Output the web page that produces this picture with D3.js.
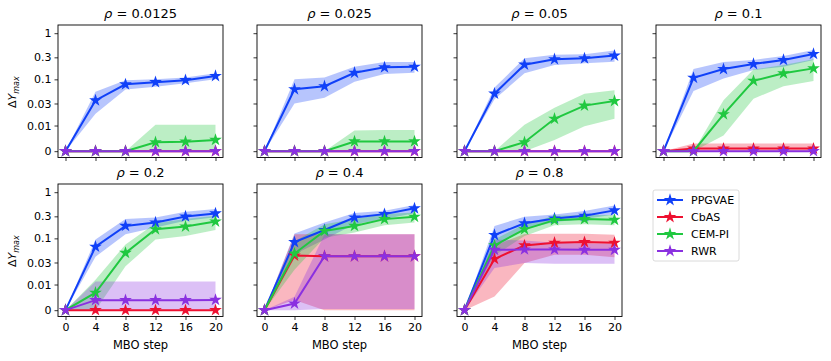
<!DOCTYPE html>
<html>
<head>
<meta charset="utf-8">
<script src="https://cdn.jsdelivr.net/npm/d3@7"></script>
<style>
  body { margin: 0; background: #fff; }
  text { font-family: "DejaVu Sans", sans-serif; fill: #000; }
</style>
</head>
<body>
<svg width="831" height="361"></svg>
<script>
// data
var steps = [0, 4, 8, 12, 16, 20];
var rhos = ["0.0125", "0.025", "0.05", "0.1", "0.2", "0.4", "0.8"];
var methods = ["PPGVAE", "CbAS", "CEM-PI", "RWR"];
var colors = ["#1040f8", "#ee1030", "#20c840", "#8a30e0"];
var yTicks = [0, 0.01, 0.03, 0.1, 0.3, 1];
var yTickLabels = ["0", "0.01", "0.03", "0.1", "0.3", "1"];

var ppgvaeMean = [
  [0, 0.035, 0.078, 0.087, 0.096, 0.118],
  [0, 0.061, 0.071, 0.139, 0.182, 0.188],
  [0, 0.049, 0.208, 0.272, 0.285, 0.327],
  [0, 0.108, 0.167, 0.215, 0.263, 0.355],
  [0, 0.066, 0.186, 0.221, 0.298, 0.347],
  [0, 0.083, 0.152, 0.283, 0.335, 0.447],
  [0, 0.118, 0.213, 0.27, 0.308, 0.404]
];
var ppgvaeLo = [
  [0, 0.018, 0.060, 0.069, 0.082, 0.100],
  [0, 0.030, 0.040, 0.089, 0.130, 0.139],
  [0, 0.037, 0.135, 0.204, 0.222, 0.242],
  [0, 0.056, 0.105, 0.159, 0.188, 0.263],
  [0, 0.040, 0.122, 0.171, 0.240, 0.285],
  [0, 0.045, 0.095, 0.203, 0.261, 0.35],
  [0, 0.066, 0.157, 0.227, 0.261, 0.33]
];
var ppgvaeHi = [
  [0, 0.054, 0.096, 0.101, 0.110, 0.135],
  [0, 0.100, 0.110, 0.188, 0.237, 0.237],
  [0, 0.067, 0.285, 0.342, 0.349, 0.42],
  [0, 0.167, 0.237, 0.263, 0.321, 0.43],
  [0, 0.095, 0.261, 0.284, 0.378, 0.43],
  [0, 0.128, 0.221, 0.353, 0.397, 0.53],
  [0, 0.186, 0.293, 0.33, 0.39, 0.512]
];

var cbasMean = [
  [0, 0, 0, 0, 0, 0],
  [0, 0, 0, 0, 0, 0],
  [0, 0, 0, 0, 0, 0],
  [0, 0.001, 0.001, 0.001, 0.001, 0.001],
  [0, 0, 0, 0, 0, 0],
  [0, 0.0424, 0.041, 0.041, 0.041, 0.041],
  [0, 0.0358, 0.0703, 0.0804, 0.083, 0.0804]
];
var cbasLo = [
  [0, 0, 0, 0, 0, 0],
  [0, 0, 0, 0, 0, 0],
  [0, 0, 0, 0, 0, 0],
  [0, 0, 0, 0, 0, 0],
  [0, 0, 0, 0, 0, 0],
  [0, 0.004, 0, 0, 0, 0],
  [0, 0.0053, 0.0293, 0.044, 0.044, 0.039]
];
var cbasHi = [
  [0, 0, 0, 0, 0, 0],
  [0, 0, 0, 0, 0, 0],
  [0, 0, 0, 0, 0, 0],
  [0, 0.003, 0.003, 0.003, 0.003, 0.003],
  [0, 0, 0, 0, 0, 0],
  [0, 0.122, 0.122, 0.122, 0.122, 0.122],
  [0, 0.0703, 0.124, 0.126, 0.126, 0.12]
];

var cemMean = [
  [0, 0, 0, 0.0035, 0.0037, 0.0044],
  [0, 0, 0, 0.0038, 0.0038, 0.0038],
  [0, 0, 0.0035, 0.014, 0.027, 0.034],
  [0, 0, 0.0175, 0.093, 0.135, 0.173],
  [0, 0.0068, 0.0485, 0.157, 0.18, 0.231],
  [0, 0.0469, 0.145, 0.186, 0.261, 0.293],
  [0, 0.0703, 0.157, 0.248, 0.261, 0.252]
];
var cemLo = [
  [0, 0, 0, 0, 0, 0],
  [0, 0, 0, 0, 0, 0],
  [0, 0, 0, 0.0044, 0.0097, 0.014],
  [0, 0, 0.0061, 0.038, 0.0713, 0.0917],
  [0, 0, 0.0248, 0.094, 0.112, 0.152],
  [0, 0.021, 0.103, 0.134, 0.193, 0.22],
  [0, 0.0424, 0.112, 0.193, 0.203, 0.193]
];
var cemHi = [
  [0, 0, 0, 0.0104, 0.0104, 0.0104],
  [0, 0, 0, 0.0081, 0.0083, 0.0083],
  [0, 0, 0.0104, 0.0244, 0.049, 0.058],
  [0, 0, 0.0353, 0.164, 0.204, 0.272],
  [0, 0.0127, 0.074, 0.213, 0.261, 0.308],
  [0, 0.087, 0.203, 0.261, 0.335, 0.365],
  [0, 0.095, 0.203, 0.308, 0.32, 0.32]
];

var rwrMean = [
  [0, 0, 0, 0, 0, 0],
  [0, 0, 0, 0, 0, 0],
  [0, 0, 0, 0, 0, 0],
  [0, 0, 0, 0, 0, 0],
  [0, 0.0039, 0.0039, 0.0039, 0.0039, 0.004],
  [0, 0.0026, 0.041, 0.041, 0.041, 0.041],
  [0, 0.0564, 0.0575, 0.0575, 0.0564, 0.0564]
];
var rwrLo = [
  [0, 0, 0, 0, 0, 0],
  [0, 0, 0, 0, 0, 0],
  [0, 0, 0, 0, 0, 0],
  [0, 0, 0, 0, 0, 0],
  [0, 0, 0, 0, 0, 0],
  [0, 0, 0.0005, 0.0005, 0.0005, 0.0005],
  [0, 0.0228, 0.0293, 0.0283, 0.0283, 0.0283]
];
var rwrHi = [
  [0, 0, 0, 0, 0, 0],
  [0, 0, 0, 0, 0, 0],
  [0, 0, 0, 0, 0, 0],
  [0, 0, 0, 0, 0, 0],
  [0, 0.0116, 0.0116, 0.0116, 0.0116, 0.0116],
  [0, 0.0052, 0.122, 0.122, 0.122, 0.122],
  [0, 0.095, 0.09, 0.08, 0.077, 0.077]
];

var means = [ppgvaeMean, cbasMean, cemMean, rwrMean];
var los = [ppgvaeLo, cbasLo, cemLo, rwrLo];
var his = [ppgvaeHi, cbasHi, cemHi, rwrHi];

// symlog like matplotlib: linthresh 0.01, linscale 0.5
var linThresh = 0.01, linSpan = 0.5 / 0.9;
function symlog(v) {
  return v <= linThresh ? v / linThresh * linSpan : linSpan + Math.log10(v / linThresh);
}

var svg = d3.select("svg");
var colX = [58, 257, 457, 656], rowY = [25, 184];
var W = 165, H = 132.5;

var x = d3.scaleLinear().domain([-1, 21]).range([0, W]);
var y = d3.scaleLinear().domain([-0.137, 2.733]).range([H, 0]);
var star = d3.symbol().type(d3.symbolStar).size(50);

rhos.forEach(function(rho, p) {
  var row = Math.floor(p / 4), col = p % 4;
  var g = svg.append("g").attr("transform", "translate(" + colX[col] + "," + rowY[row] + ")");

  // bands first
  methods.forEach(function(m, k) {
    var area = d3.area()
      .x(function(d, i) { return x(steps[i]); })
      .y0(function(d, i) { return y(symlog(los[k][p][i])); })
      .y1(function(d, i) { return y(symlog(his[k][p][i])); });
    g.append("path").attr("d", area(steps))
      .attr("fill", colors[k]).attr("fill-opacity", 0.3).attr("stroke", "none");
  });

  // lines + star markers
  methods.forEach(function(m, k) {
    var line = d3.line()
      .x(function(d, i) { return x(steps[i]); })
      .y(function(d) { return y(symlog(d)); });
    g.append("path").attr("d", line(means[k][p]))
      .attr("fill", "none").attr("stroke", colors[k]).attr("stroke-width", 2);
    g.selectAll(".pt" + k).data(means[k][p]).enter().append("path")
      .attr("transform", function(d, i) { return "translate(" + x(steps[i]) + "," + y(symlog(d)) + ")"; })
      .attr("d", star).attr("fill", colors[k]);
  });

  // axes
  var xAxis = d3.axisBottom(x).tickValues(steps).tickSize(3.5).tickPadding(3)
    .tickFormat(row === 1 ? d3.format("d") : "");
  var yAxis = d3.axisLeft(y).tickValues(yTicks.map(symlog)).tickSize(3.5).tickPadding(3)
    .tickFormat(col === 0 ? function(d, i) { return yTickLabels[i]; } : "");
  var gx = g.append("g").attr("transform", "translate(0," + H + ")").call(xAxis);
  var gy = g.append("g").call(yAxis);
  [gx, gy].forEach(function(a) {
    a.select(".domain").remove();
    a.selectAll("line").attr("stroke", "#000").attr("stroke-width", 0.8);
    a.selectAll("text").attr("font-size", 11).attr("font-family", "DejaVu Sans");
  });

  g.append("rect").attr("width", W).attr("height", H)
    .attr("fill", "none").attr("stroke", "#000").attr("stroke-width", 0.9);

  var t = g.append("text").attr("x", W / 2).attr("y", -7).attr("text-anchor", "middle")
    .attr("font-size", 13);
  t.append("tspan").attr("font-style", "italic").text("ρ");
  t.append("tspan").text(" = " + rho);

  if (row === 1) {
    g.append("text").attr("x", W / 2).attr("y", H + 32).attr("text-anchor", "middle")
      .attr("font-size", 11.5).text("MBO step");
  }
  if (col === 0) {
    var yl = g.append("text").attr("transform", "translate(-42," + (y(symlog(0)) + y(symlog(1))) / 2 + ") rotate(-90)")
      .attr("text-anchor", "middle").attr("font-size", 11);
    yl.append("tspan").text("Δ");
    yl.append("tspan").attr("font-style", "italic").text("Y");
    yl.append("tspan").attr("font-style", "italic").attr("font-size", 8).attr("dy", 2.5).text("max");
  }
});

// legend
var lg = svg.append("g").attr("transform", "translate(653,190)");
lg.append("rect").attr("width", 86).attr("height", 71).attr("rx", 2)
  .attr("fill", "#fff").attr("stroke", "#d0d0d0").attr("stroke-width", 0.8);
methods.forEach(function(m, k) {
  var yy = 10 + k * 17;
  lg.append("line").attr("x1", 4).attr("x2", 30).attr("y1", yy).attr("y2", yy)
    .attr("stroke", colors[k]).attr("stroke-width", 2);
  lg.append("path").attr("transform", "translate(17," + yy + ")").attr("d", star).attr("fill", colors[k]);
  lg.append("text").attr("x", 38).attr("y", yy + 4).attr("font-size", 11).text(m);
});
</script>
</body>
</html>
